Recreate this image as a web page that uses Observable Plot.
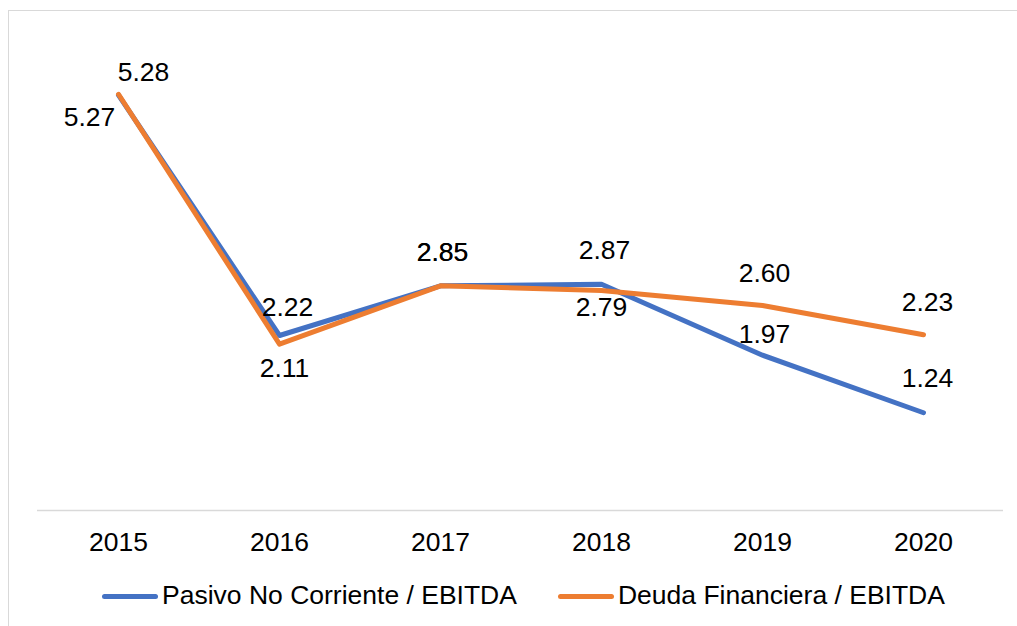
<!DOCTYPE html>
<html>
<head>
<meta charset="utf-8">
<script src="https://cdn.jsdelivr.net/npm/d3@7"></script>
<script src="https://cdn.jsdelivr.net/npm/@observablehq/plot@0.6"></script>
<style>
  html, body { margin: 0; padding: 0; background: #fff; }
  body { width: 1017px; height: 626px; overflow: hidden; position: relative; font-family: "Liberation Sans", Arial, sans-serif; }
  #frame { position: absolute; left: 8px; top: 10px; width: 1010px; height: 630px; border: 1px solid #d9d9d9; box-sizing: border-box; }
  #chart { position: absolute; left: 0; top: 0; }
  #legend { position: absolute; left: 102px; top: 580px; display: flex; align-items: center; font-size: 26.5px; line-height: 30px; color: #000; white-space: nowrap; }
  .item { display: flex; align-items: center; margin-right: 41px; }
  .sw { width: 56px; height: 5px; border-radius: 3px; margin-right: 4px; position: relative; top: 1px; }
</style>
</head>
<body>
<div id="frame"></div>
<div id="chart"></div>
<div id="legend"></div>
<script>
const years = ["2015", "2016", "2017", "2018", "2019", "2020"];
const pasivoNoCorriente = [5.27, 2.22, 2.85, 2.87, 1.97, 1.24];
const deudaFinanciera = [5.28, 2.11, 2.85, 2.79, 2.60, 2.23];
const seriesNames = ["Pasivo No Corriente / EBITDA", "Deuda Financiera / EBITDA"];
const seriesColors = ["#4472C4", "#ED7D31"];

// label placement offsets (dx, dy) in pixels, per point
const labelOffsets = [
  [[-29, 22], [8, -28], [2, -33], [3, -34], [2, -21], [4, -34]],
  [[25, -22], [5, 24], [2, -33], [0, 17], [2, -32], [4, -32]]
];

const seriesValues = [pasivoNoCorriente, deudaFinanciera];
const rows = seriesValues.map((vals, s) => years.map((y, i) => ({year: y, value: vals[i], series: seriesNames[s]})));

const marks = [
  Plot.ruleY([0], {stroke: "#d9d9d9", strokeWidth: 1.5}),
  Plot.axisX({tickSize: 0, tickPadding: 22, fontSize: 26.5, fill: "#000", label: null})
];
rows.forEach((data, s) => {
  marks.push(Plot.line(data, {x: "year", y: "value", stroke: seriesColors[s], strokeWidth: 5, strokeLinecap: "round", strokeLinejoin: "round"}));
});
rows.forEach((data, s) => {
  data.forEach((d, i) => {
    const [dx, dy] = labelOffsets[s][i];
    marks.push(Plot.text([d], {x: "year", y: "value", text: (v) => v.value.toFixed(2), dx, dy, fontSize: 26.5, fill: "#000"}));
  });
});

const chart = Plot.plot({
  width: 1017,
  height: 560,
  marginLeft: 37,
  marginRight: 14,
  marginTop: 37,
  marginBottom: 50,
  style: {fontFamily: "Liberation Sans, Arial, sans-serif", fontSize: "26.5px", background: "transparent", overflow: "visible"},
  x: {type: "point", domain: years, padding: 0.5, axis: null},
  y: {domain: [0, 6], axis: null},
  marks
});
document.getElementById("chart").appendChild(chart);

const legend = document.getElementById("legend");
seriesNames.forEach((name, s) => {
  const item = document.createElement("div");
  item.className = "item";
  const sw = document.createElement("span");
  sw.className = "sw";
  sw.style.background = seriesColors[s];
  const t = document.createElement("span");
  t.textContent = name;
  item.appendChild(sw);
  item.appendChild(t);
  legend.appendChild(item);
});
</script>
</body>
</html>
